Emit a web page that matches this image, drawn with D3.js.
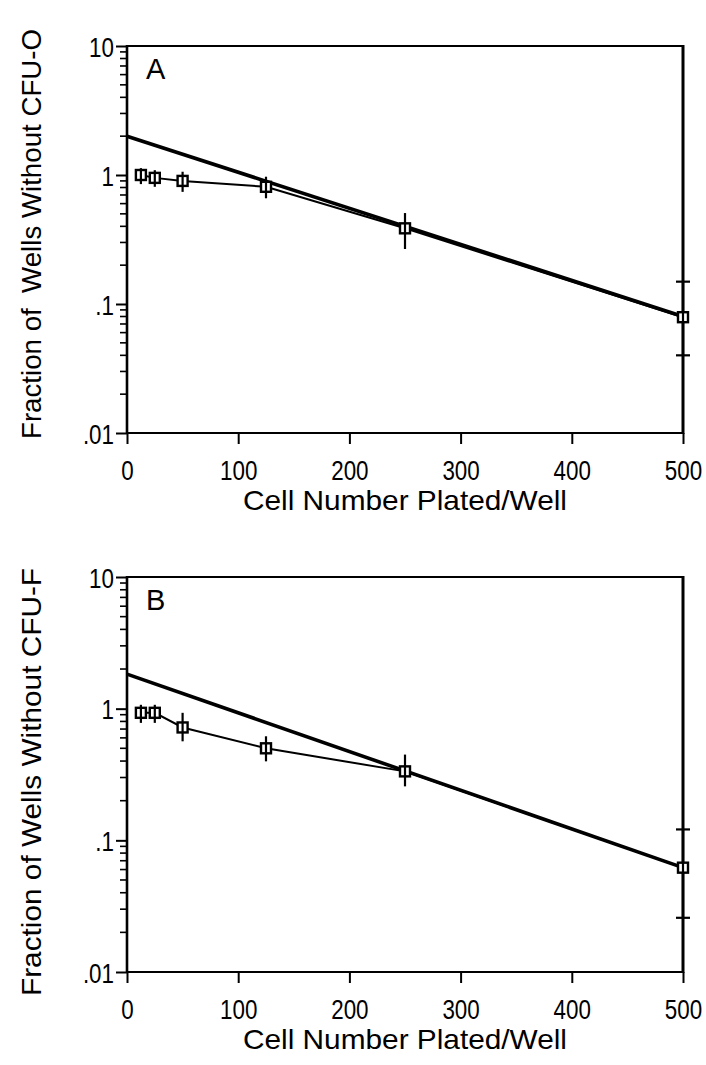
<!DOCTYPE html>
<html>
<head>
<meta charset="utf-8">
<script src="https://cdn.jsdelivr.net/npm/d3@7"></script>
<style>
html,body{margin:0;padding:0;background:#fff;}
text{font-family:"Liberation Sans",Arial,Helvetica,sans-serif;fill:#000;}
</style>
</head>
<body>
<svg id="chart" width="706" height="1065"></svg>
<script>
// ---- data ----
const cellNumbers = [12.5, 25, 50, 125, 250, 500];

const fractionA = [1.0, 0.95, 0.90, 0.81, 0.386, 0.079];
const errLowA   = [0.85, 0.81, 0.74, 0.66, 0.267, 0.040];
const errHighA  = [1.13, 1.09, 1.06, 0.97, 0.507, 0.149];
const fitXA = [0, 500];
const fitYA = [2.0, 0.08];

const fractionB = [0.93, 0.93, 0.72, 0.50, 0.334, 0.062];
const errLowB   = [0.78, 0.78, 0.565, 0.398, 0.257, 0.0258];
const errHighB  = [1.07, 1.07, 0.93, 0.617, 0.448, 0.121];
const fitXB = [0, 500];
const fitYB = [1.83, 0.062];

const xTicks = [0, 100, 200, 300, 400, 500];
const yTicks = [0.01, 0.1, 1, 10];
const yTickLabels = [".01", ".1", "1", "10"];

const panels = [
  {letter: "A", yTitle: "Fraction of  Wells Without CFU-O", xTitle: "Cell Number Plated/Well",
   y: fractionA, lo: errLowA, hi: errHighA, fitX: fitXA, fitY: fitYA,
   top: 46, bottom: 433, titleY: 234, titleLen: 410},
  {letter: "B", yTitle: "Fraction of Wells Without CFU-F", xTitle: "Cell Number Plated/Well",
   y: fractionB, lo: errLowB, hi: errHighB, fitX: fitXB, fitY: fitYB,
   top: 577, bottom: 972, titleY: 782, titleLen: 428}
];

const svg = d3.select("#chart");
const left = 127, right = 683;
const sx = 0.8;

panels.forEach(p => {
  const g = svg.append("g");
  const x = d3.scaleLinear().domain([0, 500]).range([left, right]);
  const y = d3.scaleLog().domain([0.01, 10]).range([p.bottom, p.top]);

  // minor ticks on left axis
  const minor = [];
  for (let e = -2; e < 1; e++) for (let m = 2; m <= 9; m++) minor.push(m * Math.pow(10, e));
  g.selectAll(".minor").data(minor).enter().append("line")
    .attr("x1", left - 7).attr("x2", left)
    .attr("y1", d => y(d)).attr("y2", d => y(d))
    .attr("stroke", "#000").attr("stroke-width", 1.6);

  // left axis
  const yAxis = d3.axisLeft(y).tickValues(yTicks)
    .tickFormat((d, i) => yTickLabels[i]).tickSize(11).tickPadding(4);
  const ya = g.append("g").attr("transform", `translate(${left},0)`).call(yAxis);
  ya.select(".domain").remove();
  ya.selectAll(".tick line").attr("stroke-width", 2);
  ya.selectAll(".tick text").style("font-size", "28px").attr("dy", "0.36em")
    .attr("transform", `scale(${sx},1)`).attr("x", -13 / sx);

  // bottom axis
  const xAxis = d3.axisBottom(x).tickValues(xTicks).tickSize(11).tickPadding(16);
  const xa = g.append("g").attr("transform", `translate(0,${p.bottom})`).call(xAxis);
  xa.select(".domain").remove();
  xa.selectAll(".tick line").attr("stroke-width", 2);
  xa.selectAll(".tick text").style("font-size", "28px")
    .attr("transform", `scale(${sx},1)`)
    .each(function() {
      const t = d3.select(this.parentNode).attr("transform");
      const tx = +/translate\(([-\d.]+)/.exec(t)[1];
      d3.select(this.parentNode).attr("transform", `translate(0,0)`);
      d3.select(this).attr("x", tx / sx);
      d3.select(this.parentNode).select("line").attr("x1", tx).attr("x2", tx);
    });

  // frame
  g.append("line").attr("x1", left).attr("x2", right).attr("y1", p.top).attr("y2", p.top)
    .attr("stroke", "#000").attr("stroke-width", 2.2);
  g.append("line").attr("x1", left).attr("x2", right).attr("y1", p.bottom).attr("y2", p.bottom)
    .attr("stroke", "#000").attr("stroke-width", 2.2);
  g.append("line").attr("x1", left).attr("x2", left).attr("y1", p.top - 1).attr("y2", p.bottom + 1)
    .attr("stroke", "#000").attr("stroke-width", 2.6);
  g.append("line").attr("x1", right).attr("x2", right).attr("y1", p.top - 1).attr("y2", p.bottom + 1)
    .attr("stroke", "#000").attr("stroke-width", 3);

  // fit line
  const fitData = p.fitX.map((d, i) => [d, p.fitY[i]]);
  g.append("path").datum(fitData)
    .attr("d", d3.line().x(d => x(d[0])).y(d => y(d[1])))
    .attr("fill", "none").attr("stroke", "#000").attr("stroke-width", 3.6);

  // connecting line
  const pts = cellNumbers.map((c, i) => ({x: c, y: p.y[i], lo: p.lo[i], hi: p.hi[i]}));
  g.append("path").datum(pts)
    .attr("d", d3.line().x(d => x(d.x)).y(d => y(d.y)))
    .attr("fill", "none").attr("stroke", "#000").attr("stroke-width", 2);

  // markers
  const s = 10;
  g.selectAll(".mk").data(pts).enter().append("rect")
    .attr("x", d => x(d.x) - s / 2).attr("y", d => y(d.y) - s / 2)
    .attr("width", s).attr("height", s)
    .attr("fill", "#fff").attr("stroke", "#000").attr("stroke-width", 2.4);

  // error bars
  g.selectAll(".eb").data(pts).enter().append("line")
    .attr("x1", d => x(d.x)).attr("x2", d => x(d.x))
    .attr("y1", d => y(d.lo)).attr("y2", d => y(d.hi))
    .attr("stroke", "#000").attr("stroke-width", 2.2);
  const capped = pts.filter(d => d.x === 500);
  ["lo", "hi"].forEach(k => {
    g.selectAll(".cap" + k).data(capped).enter().append("line")
      .attr("x1", d => x(d.x) - 7).attr("x2", d => x(d.x) + 7)
      .attr("y1", d => y(d[k])).attr("y2", d => y(d[k]))
      .attr("stroke", "#000").attr("stroke-width", 2.2);
  });

  // panel letter
  g.append("text").attr("x", 146).attr("y", p.top + 33).text(p.letter)
    .style("font-size", "29px");

  // axis titles
  g.append("text").attr("x", 405).attr("y", p.bottom + 77)
    .attr("text-anchor", "middle").style("font-size", "28px")
    .attr("textLength", 324).attr("lengthAdjust", "spacingAndGlyphs").text(p.xTitle);
  g.append("text").attr("transform", `translate(41,${p.titleY}) rotate(-90)`)
    .attr("text-anchor", "middle").style("font-size", "28px")
    .attr("textLength", p.titleLen).attr("lengthAdjust", "spacingAndGlyphs")
    .attr("xml:space", "preserve").style("white-space", "pre").text(p.yTitle);
});
</script>
</body>
</html>
